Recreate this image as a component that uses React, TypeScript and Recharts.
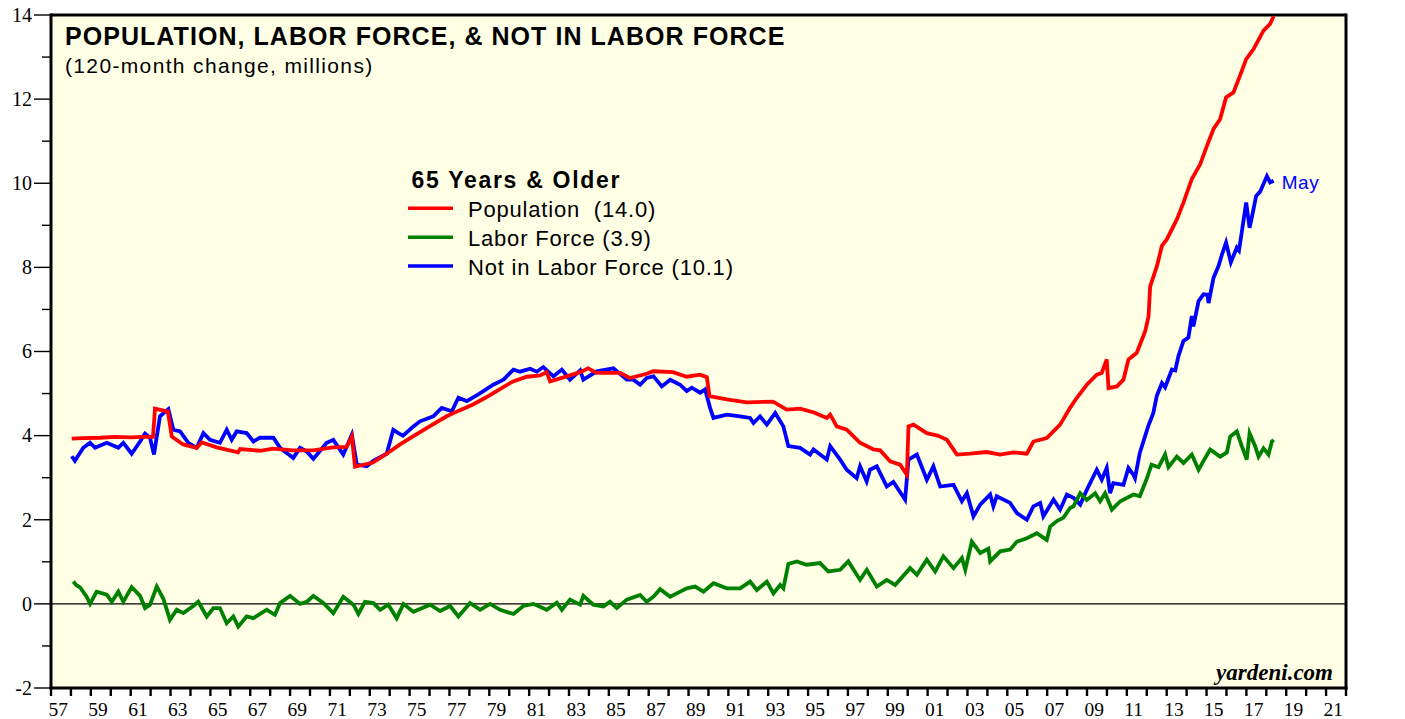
import { LineChart, Line, XAxis, YAxis, CartesianGrid, ReferenceLine, Legend } from "recharts";

// [decimal year, 120-month change in millions]
const population: [number, number][] = [
  [1958.04, 3.93], [1958.6, 3.94], [1959.46, 3.95], [1960.2, 3.97], [1960.97, 3.96], [1961.6, 3.97],
  [1962.12, 3.97], [1962.22, 4.64], [1962.87, 4.57], [1963.06, 3.98], [1963.63, 3.79], [1964.31, 3.71],
  [1964.57, 3.84], [1965.32, 3.72], [1966.39, 3.6], [1966.49, 3.68], [1967.49, 3.64], [1968.14, 3.69],
  [1969.15, 3.65], [1970.15, 3.65], [1971.16, 3.72], [1971.84, 3.73], [1972.1, 3.98], [1972.26, 3.26],
  [1973.16, 3.36], [1973.85, 3.57], [1974.52, 3.79], [1975.17, 3.98], [1976.0, 4.22], [1976.86, 4.46],
  [1977.5, 4.6], [1978.18, 4.74], [1978.8, 4.9], [1979.37, 5.06], [1980.19, 5.29], [1980.88, 5.4],
  [1981.55, 5.43], [1981.88, 5.51], [1982.05, 5.29], [1982.89, 5.41], [1983.56, 5.51], [1983.96, 5.6],
  [1984.39, 5.49], [1985.56, 5.49], [1986.06, 5.37], [1986.9, 5.47], [1987.22, 5.53], [1988.22, 5.51],
  [1988.91, 5.4], [1989.58, 5.45], [1989.92, 5.39], [1990.05, 4.94], [1990.92, 4.86], [1991.92, 4.79],
  [1993.24, 4.81], [1993.93, 4.62], [1994.6, 4.64], [1995.3, 4.55], [1995.94, 4.42], [1996.11, 4.5],
  [1996.44, 4.22], [1996.94, 4.14], [1997.61, 3.83], [1998.28, 3.67], [1998.62, 3.65], [1999.12, 3.39],
  [1999.62, 3.31], [1999.96, 3.07], [2000.04, 4.22], [2000.29, 4.26], [2000.96, 4.06], [2001.5, 4.0],
  [2001.97, 3.9], [2002.47, 3.55], [2003.13, 3.57], [2003.97, 3.61], [2004.64, 3.55], [2005.31, 3.6],
  [2005.98, 3.57], [2006.31, 3.86], [2006.98, 3.94], [2007.65, 4.26], [2008.15, 4.66], [2008.49, 4.9],
  [2008.99, 5.21], [2009.49, 5.45], [2009.74, 5.49], [2009.99, 5.81], [2010.08, 5.13], [2010.5, 5.17],
  [2010.83, 5.33], [2011.08, 5.81], [2011.5, 5.97], [2011.92, 6.48], [2012.09, 6.84], [2012.17, 7.55],
  [2012.51, 8.03], [2012.76, 8.51], [2013.01, 8.67], [2013.51, 9.14], [2013.84, 9.54], [2014.26, 10.1],
  [2014.68, 10.45], [2015.02, 10.89], [2015.35, 11.29], [2015.68, 11.52], [2015.98, 12.04], [2016.35, 12.16],
  [2016.68, 12.56], [2016.99, 12.95], [2017.36, 13.19], [2017.86, 13.63], [2018.19, 13.79], [2018.37, 13.97],
];

const laborForce: [number, number][] = [
  [1958.12, 0.53], [1958.26, 0.45], [1958.46, 0.39], [1958.79, 0.17], [1958.96, 0.0], [1959.29, 0.29],
  [1959.8, 0.22], [1960.05, 0.05], [1960.38, 0.29], [1960.63, 0.05], [1961.05, 0.4], [1961.47, 0.19],
  [1961.72, -0.1], [1961.97, -0.02], [1962.31, 0.41], [1962.64, 0.12], [1962.97, -0.38], [1963.31, -0.14],
  [1963.64, -0.22], [1964.14, -0.05], [1964.39, 0.05], [1964.82, -0.3], [1965.15, -0.1], [1965.48, -0.1],
  [1965.82, -0.46], [1966.15, -0.3], [1966.4, -0.54], [1966.82, -0.3], [1967.16, -0.34], [1967.83, -0.14],
  [1968.24, -0.26], [1968.5, 0.02], [1969.0, 0.19], [1969.5, 0.0], [1969.84, 0.05], [1970.17, 0.19],
  [1970.67, 0.02], [1971.17, -0.22], [1971.67, 0.17], [1972.18, -0.02], [1972.43, -0.24], [1972.76, 0.05],
  [1973.18, 0.02], [1973.52, -0.14], [1973.93, -0.02], [1974.35, -0.34], [1974.69, 0.0], [1975.19, -0.19],
  [1976.03, -0.02], [1976.53, -0.17], [1977.03, -0.05], [1977.45, -0.3], [1978.03, 0.02], [1978.54, -0.14],
  [1979.04, 0.0], [1979.54, -0.14], [1980.21, -0.24], [1980.71, -0.05], [1981.21, 0.0], [1981.88, -0.14],
  [1982.39, 0.03], [1982.64, -0.14], [1983.05, 0.1], [1983.56, -0.02], [1983.72, 0.19], [1984.22, -0.02],
  [1984.73, -0.06], [1985.06, 0.05], [1985.4, -0.1], [1985.9, 0.1], [1986.57, 0.21], [1986.9, 0.05],
  [1987.24, 0.17], [1987.57, 0.35], [1988.08, 0.17], [1988.41, 0.25], [1988.91, 0.37], [1989.33, 0.41],
  [1989.75, 0.29], [1990.25, 0.49], [1990.92, 0.37], [1991.59, 0.37], [1992.09, 0.53], [1992.43, 0.33],
  [1992.93, 0.53], [1993.26, 0.25], [1993.6, 0.45], [1993.76, 0.37], [1994.01, 0.95], [1994.43, 1.01],
  [1994.93, 0.93], [1995.6, 0.97], [1996.02, 0.77], [1996.61, 0.81], [1997.02, 1.01], [1997.61, 0.57],
  [1997.95, 0.81], [1998.45, 0.41], [1998.95, 0.57], [1999.37, 0.45], [2000.12, 0.85], [2000.46, 0.69],
  [2000.96, 1.05], [2001.38, 0.77], [2001.79, 1.13], [2002.3, 0.85], [2002.72, 1.09], [2002.89, 0.81],
  [2003.22, 1.48], [2003.64, 1.21], [2004.05, 1.31], [2004.14, 1.01], [2004.64, 1.25], [2005.14, 1.29],
  [2005.48, 1.48], [2005.98, 1.56], [2006.48, 1.68], [2006.98, 1.52], [2007.15, 1.84], [2007.49, 1.97],
  [2007.82, 2.05], [2008.15, 2.28], [2008.32, 2.32], [2008.66, 2.63], [2008.99, 2.47], [2009.41, 2.63],
  [2009.66, 2.44], [2009.91, 2.63], [2010.25, 2.24], [2010.67, 2.44], [2011.33, 2.6], [2011.65, 2.56],
  [2011.98, 2.95], [2012.24, 3.31], [2012.59, 3.25], [2012.92, 3.55], [2013.09, 3.25], [2013.51, 3.5],
  [2013.84, 3.35], [2014.26, 3.55], [2014.6, 3.19], [2014.85, 3.4], [2015.18, 3.67], [2015.68, 3.5],
  [2016.02, 3.6], [2016.19, 3.98], [2016.52, 4.1], [2016.77, 3.75], [2017.02, 3.43], [2017.16, 4.06],
  [2017.44, 3.75], [2017.61, 3.5], [2017.86, 3.7], [2018.11, 3.55], [2018.28, 3.86], [2018.37, 3.9],
];

const notInLaborForce: [number, number][] = [
  [1958.04, 3.51], [1958.2, 3.4], [1958.62, 3.71], [1958.96, 3.83], [1959.21, 3.71], [1959.8, 3.83],
  [1960.38, 3.71], [1960.63, 3.83], [1961.05, 3.57], [1961.47, 3.86], [1961.72, 4.05], [1961.97, 3.95],
  [1962.17, 3.55], [1962.47, 4.46], [1962.89, 4.63], [1963.14, 4.14], [1963.48, 4.1], [1963.89, 3.83],
  [1964.31, 3.71], [1964.65, 4.06], [1964.98, 3.9], [1965.48, 3.83], [1965.82, 4.14], [1966.07, 3.9],
  [1966.32, 4.1], [1966.82, 4.06], [1967.16, 3.86], [1967.49, 3.95], [1968.16, 3.95], [1968.5, 3.71],
  [1969.16, 3.47], [1969.5, 3.71], [1969.84, 3.62], [1970.17, 3.45], [1970.84, 3.83], [1971.17, 3.9],
  [1971.67, 3.55], [1972.1, 4.02], [1972.35, 3.31], [1972.85, 3.27], [1973.18, 3.4], [1973.85, 3.57],
  [1974.18, 4.14], [1974.43, 4.06], [1974.67, 4.0], [1975.19, 4.22], [1975.52, 4.34], [1976.19, 4.46],
  [1976.61, 4.66], [1977.12, 4.58], [1977.45, 4.9], [1977.87, 4.82], [1978.45, 4.98], [1979.2, 5.21],
  [1979.71, 5.33], [1980.21, 5.57], [1980.54, 5.52], [1981.05, 5.59], [1981.38, 5.52], [1981.71, 5.63],
  [1982.22, 5.41], [1982.64, 5.57], [1983.05, 5.33], [1983.56, 5.55], [1983.72, 5.33], [1984.39, 5.53],
  [1985.23, 5.6], [1985.9, 5.33], [1986.23, 5.33], [1986.57, 5.21], [1986.9, 5.37], [1987.24, 5.41],
  [1987.66, 5.17], [1988.08, 5.33], [1988.58, 5.21], [1988.91, 5.06], [1989.16, 5.14], [1989.58, 5.02],
  [1989.83, 5.1], [1990.08, 4.66], [1990.25, 4.42], [1990.92, 4.5], [1991.59, 4.46], [1992.09, 4.42],
  [1992.26, 4.3], [1992.59, 4.46], [1992.93, 4.26], [1993.35, 4.54], [1993.76, 4.22], [1994.01, 3.75],
  [1994.6, 3.71], [1995.1, 3.55], [1995.27, 3.67], [1995.94, 3.43], [1996.11, 3.75], [1996.61, 3.43],
  [1996.94, 3.19], [1997.44, 2.99], [1997.61, 3.27], [1997.94, 2.91], [1998.11, 3.19], [1998.45, 3.27],
  [1998.95, 2.79], [1999.28, 2.9], [1999.87, 2.48], [2000.04, 3.43], [2000.46, 3.55], [2000.96, 2.95],
  [2001.29, 3.27], [2001.63, 2.79], [2002.3, 2.83], [2002.72, 2.44], [2002.97, 2.63], [2003.3, 2.08],
  [2003.64, 2.36], [2004.14, 2.6], [2004.3, 2.32], [2004.47, 2.56], [2005.14, 2.4], [2005.48, 2.16],
  [2005.98, 2.0], [2006.31, 2.32], [2006.65, 2.4], [2006.81, 2.08], [2007.32, 2.48], [2007.65, 2.24],
  [2007.99, 2.6], [2008.32, 2.52], [2008.66, 2.36], [2008.99, 2.71], [2009.49, 3.19], [2009.74, 2.95],
  [2009.99, 3.23], [2010.16, 2.63], [2010.32, 2.87], [2010.83, 2.83], [2011.08, 3.23], [2011.33, 3.07],
  [2011.41, 2.99], [2011.65, 3.59], [2012.07, 4.22], [2012.33, 4.54], [2012.5, 4.94], [2012.76, 5.25],
  [2012.92, 5.15], [2013.26, 5.57], [2013.43, 5.55], [2013.59, 5.89], [2013.84, 6.25], [2014.09, 6.33],
  [2014.26, 6.84], [2014.34, 6.6], [2014.6, 7.2], [2014.85, 7.36], [2015.05, 7.35], [2015.1, 7.15],
  [2015.35, 7.75], [2015.6, 8.03], [2015.77, 8.3], [2015.98, 8.59], [2016.22, 8.12], [2016.52, 8.47],
  [2016.63, 8.4], [2016.99, 9.54], [2017.16, 8.94], [2017.28, 9.2], [2017.49, 9.7], [2017.69, 9.8],
  [2018.03, 10.17], [2018.19, 10.02], [2018.37, 10.06],
];

const yearTicks = [
  1957, 1958, 1959, 1960, 1961, 1962, 1963, 1964, 1965, 1966, 1967, 1968, 1969, 1970, 1971, 1972, 1973,
  1974, 1975, 1976, 1977, 1978, 1979, 1980, 1981, 1982, 1983, 1984, 1985, 1986, 1987, 1988, 1989, 1990,
  1991, 1992, 1993, 1994, 1995, 1996, 1997, 1998, 1999, 2000, 2001, 2002, 2003, 2004, 2005, 2006, 2007,
  2008, 2009, 2010, 2011, 2012, 2013, 2014, 2015, 2016, 2017, 2018, 2019, 2020, 2021, 2022,
];
const valueTicks = [-2, -1, 0, 1, 2, 3, 4, 5, 6, 7, 8, 9, 10, 11, 12, 13, 14];

const seriesNames = ["Population  (14.0)", "Labor Force (3.9)", "Not in Labor Force (10.1)"];
const lastLabel = "May";

const toRows = (pts: [number, number][]) => pts.map(([t, v]) => ({ t, v }));

const SANS = "'Liberation Sans', Arial, Helvetica, sans-serif";
const SERIF = "'Liberation Serif', 'Times New Roman', serif";

const LeftTick = (props: any) => {
  const { x, y, payload } = props;
  const major = payload.value % 2 === 0;
  return (
    <g>
      <line x1={x - (major ? 17 : 9)} x2={x} y1={y} y2={y} stroke="#000" strokeWidth={1.4} />
      {major && (
        <text x={x - 19} y={y} dy="0.34em" textAnchor="end" fontFamily={SERIF} fontSize={20} fill="#000">
          {payload.value}
        </text>
      )}
    </g>
  );
};

const RightTick = (props: any) => {
  const { x, y, payload } = props;
  const major = payload.value % 2 === 0;
  return (
    <g>
      <line x1={x} x2={x + (major ? 17 : 9)} y1={y} y2={y} stroke="#000" strokeWidth={1.4} />
      {major && (
        <text x={x + 22} y={y} dy="0.34em" textAnchor="start" fontFamily={SERIF} fontSize={20} fill="#000">
          {payload.value}
        </text>
      )}
    </g>
  );
};

const YearTick = (props: any) => {
  const { x, y, payload } = props;
  const yr = payload.value as number;
  const show = yr % 2 === 1 && yr < 2022;
  return (
    <g>
      <line x1={x} x2={x} y1={y} y2={y + 8} stroke="#000" strokeWidth={2.4} />
      {show && (
        <text x={x - 2.5} y={y + 28} textAnchor="start" fontFamily={SERIF} fontSize={19.5} fill="#000">
          {String(yr % 100).padStart(2, "0")}
        </text>
      )}
    </g>
  );
};

const LegendBox = (props: any) => {
  const items = [...(props.payload || [])].sort(
    (a: any, b: any) => seriesNames.indexOf(a.value) - seriesNames.indexOf(b.value)
  );
  return (
    <svg width={360} height={130} style={{ display: "block", overflow: "visible" }}>
      <text x={11.5} y={28.3} fontFamily={SANS} fontWeight="bold" fontSize={23} letterSpacing={1.7} fill="#000">
        65 Years &amp; Older
      </text>
      {items.map((it: any, i: number) => (
        <g key={it.value}>
          <line x1={8} x2={53} y1={48.3 + i * 28.9} y2={48.3 + i * 28.9} stroke={it.color} strokeWidth={3.5} />
          <text
            x={68}
            y={57.3 + i * 28.9}
            fontFamily={SANS}
            fontSize={22}
            letterSpacing={0.8}
            fill="#000"
            style={{ whiteSpace: "pre" }}
          >
            {it.value}
          </text>
        </g>
      ))}
    </svg>
  );
};

const blueRows = toRows(notInLaborForce);
const MayLabel = (props: any) => {
  const { x, y, index } = props;
  if (index !== blueRows.length - 1) return null;
  return (
    <text x={x + 8} y={y + 8} fontFamily={SANS} fontSize={19} letterSpacing={0.6} fill="#0000ff">
      {lastLabel}
    </text>
  );
};

export default function App() {
  return (
    <div style={{ position: "absolute", left: 0, top: 0, width: 1405, height: 719, background: "#fff" }}>
      <LineChart width={1405} height={719} margin={{ top: 15, right: 0, bottom: 0, left: 0 }}>
        <CartesianGrid horizontal={false} vertical={false} fill="#ffffe6" />
        <XAxis
          dataKey="t"
          type="number"
          domain={[1957, 2022]}
          ticks={yearTicks}
          interval={0}
          height={31}
          tickSize={0}
          tickMargin={0}
          tickLine={false}
          axisLine={{ stroke: "#000", strokeWidth: 3, strokeLinecap: "square" }}
          tick={YearTick}
        />
        <YAxis
          type="number"
          domain={[-2, 14]}
          ticks={valueTicks}
          interval={0}
          width={51}
          tickSize={0}
          tickMargin={0}
          tickLine={false}
          axisLine={{ stroke: "#000", strokeWidth: 3, strokeLinecap: "square" }}
          tick={LeftTick}
        />
        <YAxis
          yAxisId="right"
          orientation="right"
          type="number"
          domain={[-2, 14]}
          ticks={valueTicks}
          interval={0}
          width={59}
          tickSize={0}
          tickMargin={0}
          tickLine={false}
          axisLine={{ stroke: "#000", strokeWidth: 3, strokeLinecap: "square" }}
          tick={RightTick}
        />
        <ReferenceLine y={14} stroke="#000" strokeWidth={3} />
        <ReferenceLine y={0} stroke="#000" strokeWidth={1.3} />
        <Legend
          layout="vertical"
          align="center"
          verticalAlign="middle"
          wrapperStyle={{ left: 400, top: 160, width: 360, height: 130 }}
          content={LegendBox}
        />
        <Line
          data={blueRows}
          dataKey="v"
          name={seriesNames[2]}
          stroke="#0000ff"
          strokeWidth={3.8}
          dot={false}
          isAnimationActive={false}
          label={MayLabel}
        />
        <Line
          data={toRows(laborForce)}
          dataKey="v"
          name={seriesNames[1]}
          stroke="#008000"
          strokeWidth={3.8}
          dot={false}
          isAnimationActive={false}
        />
        <Line
          data={toRows(population)}
          dataKey="v"
          name={seriesNames[0]}
          stroke="#ff0000"
          strokeWidth={3.8}
          dot={false}
          isAnimationActive={false}
        />
      </LineChart>
      <svg width={1405} height={719} style={{ position: "absolute", left: 0, top: 0, pointerEvents: "none" }}>
        <text x={65} y={45} fontFamily={SANS} fontWeight="bold" fontSize={25} letterSpacing={1.05} fill="#000">
          POPULATION, LABOR FORCE, &amp; NOT IN LABOR FORCE
        </text>
        <text x={65} y={73} fontFamily={SANS} fontSize={21} letterSpacing={1.35} fill="#000">
          (120-month change, millions)
        </text>
        <text
          x={1333}
          y={680}
          textAnchor="end"
          fontFamily={SERIF}
          fontWeight="bold"
          fontStyle="italic"
          fontSize={23}
          fill="#000"
        >
          yardeni.com
        </text>
      </svg>
    </div>
  );
}
